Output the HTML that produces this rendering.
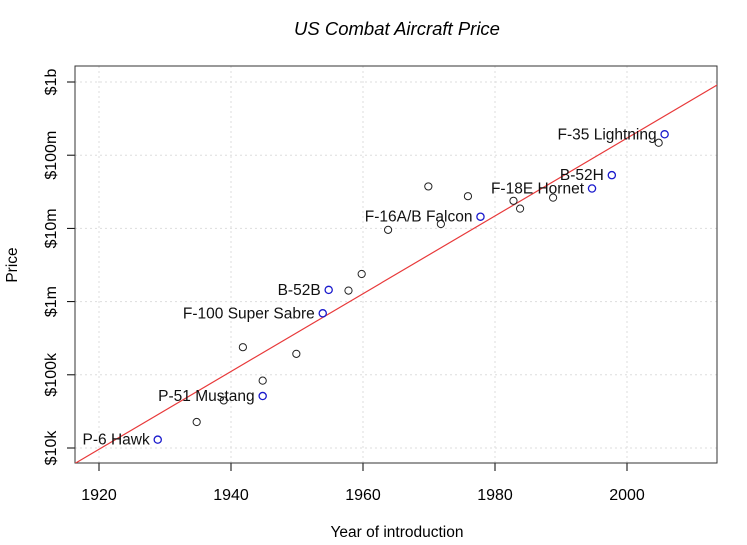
<!DOCTYPE html>
<html><head><meta charset="utf-8"><style>
body{margin:0;background:#fff;}
svg{display:block;font-family:"Liberation Sans",sans-serif;}
</style></head><body>
<svg id="chart" width="747" height="545">
<text x="397" y="35" text-anchor="middle" font-size="18.5" font-style="italic">US Combat Aircraft Price</text>
<text x="397" y="537" text-anchor="middle" font-size="15.5">Year of introduction</text>
<text transform="translate(17,265) rotate(-90)" text-anchor="middle" font-size="15.5">Price</text>
<g id="grid"></g><g id="axes"></g><g id="marks"></g>
</svg>
<script>
const xTicks=[1920,1940,1960,1980,2000];
const yTicks=[4,5,6,7,8,9];
const yTickLabels=["$10k","$100k","$1m","$10m","$100m","$1b"];
const otherYears=[1934.8,1938.9,1941.8,1944.8,1949.9,1957.8,1959.8,1963.8,1969.9,1971.8,1975.9,1982.8,1983.8,1988.8,2004.8];
const otherLogPrice=[4.355,4.65,5.377,4.92,5.286,6.15,6.377,6.98,7.573,7.06,7.44,7.377,7.27,7.42,8.17];
const namedLabels=["P-6 Hawk","P-51 Mustang","F-100 Super Sabre","B-52B","F-16A/B Falcon","F-18E Hornet","B-52H","F-35 Lightning"];
const namedYears=[1928.9,1944.8,1953.9,1954.8,1977.8,1994.7,1997.7,2005.7];
const namedLogPrice=[4.114,4.71,5.84,6.16,7.16,7.545,7.727,8.286];
const fitIntercept1900=2.920;
const fitSlope=0.05313;

const L=75,R=717,T=66,B=463;
const X=y=>99+(y-1920)*6.6;
const Y=v=>448-(v-4)*73.2;
const NS="http://www.w3.org/2000/svg";
function mk(p,tag,at){const e=document.createElementNS(NS,tag);for(const k in at)e.setAttribute(k,at[k]);p.appendChild(e);return e;}
const grid=document.getElementById('grid'),axes=document.getElementById('axes'),marks=document.getElementById('marks');
xTicks.forEach(t=>{
  const g=mk(grid,'line',{x1:X(t),x2:X(t),y1:T,y2:B,stroke:'#ddd','stroke-dasharray':'2,3'});
  
  
  const k=mk(axes,'line',{x1:X(t),x2:X(t),y1:B,y2:B+8,stroke:'#000'});
  
  
  const tx=mk(axes,'text',{x:X(t),y:B+37,'text-anchor':'middle','font-size':16});
  tx.textContent=t;
  
  
});
yTicks.forEach((t,i)=>{
  const g=mk(grid,'line',{x1:L,x2:R,y1:Y(t),y2:Y(t),stroke:'#ddd','stroke-dasharray':'2,3'});
  
  
  const k=mk(axes,'line',{x1:L-8,x2:L,y1:Y(t),y2:Y(t),stroke:'#000'});
  
  
  const tx=mk(axes,'text',{transform:`translate(${L-19},${Y(t)}) rotate(-90)`,'text-anchor':'middle','font-size':16});
  tx.textContent=yTickLabels[i];
  
  
});
const box=mk(axes,'rect',{x:L,y:T,width:R-L,height:B-T,fill:'none',stroke:'#333'});


const cp=mk(marks,'clipPath',{id:'cp'});mk(cp,'rect',{x:L,y:T,width:R-L,height:B-T});
const y0=1900,y1=2030;
const fit=mk(marks,'line',{x1:X(y0),y1:Y(fitIntercept1900+fitSlope*(y0-1900)),x2:X(y1),y2:Y(fitIntercept1900+fitSlope*(y1-1900)),stroke:'#e8393a','stroke-width':1.2,'clip-path':'url(#cp)'});


otherYears.forEach((yr,i)=>{
  const c=mk(marks,'circle',{cx:X(yr),cy:Y(otherLogPrice[i]),r:3.6,fill:'none',stroke:'#222','stroke-width':1});
  
  
});
namedYears.forEach((yr,i)=>{
  const c=mk(marks,'circle',{cx:X(yr),cy:Y(namedLogPrice[i]),r:3.6,fill:'none',stroke:'#1a1acc','stroke-width':1.3});
  
  
  const t=mk(marks,'text',{x:X(yr)-8,y:Y(namedLogPrice[i])+5,'text-anchor':'end','font-size':15.5,fill:'#111'});
  t.textContent=namedLabels[i];
  
  
});
</script>
</body></html>
